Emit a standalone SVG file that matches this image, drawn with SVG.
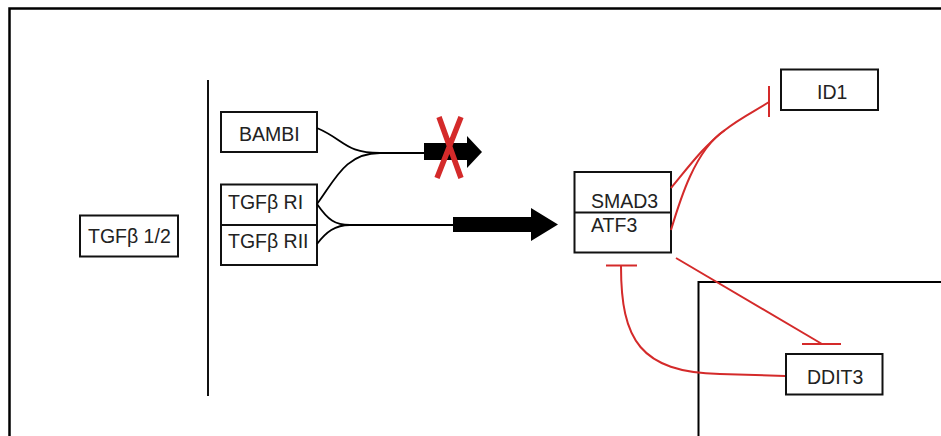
<svg xmlns="http://www.w3.org/2000/svg" width="941" height="436" viewBox="0 0 941 436">
<style>
.box{fill:#fff;stroke:#111;stroke-width:2}
.t{font-family:"Liberation Sans",Arial,sans-serif;font-size:19.5px;fill:#222}
.blk{fill:none;stroke:#000;stroke-width:1.8}
.red{fill:none;stroke:#d42a2a;stroke-width:2}
</style>
<rect width="941" height="436" fill="#fff"/>
<path d="M9.5,440 V8.5 H945" fill="none" stroke="#000" stroke-width="2.5"/>
<line x1="208" y1="80" x2="208" y2="396" stroke="#111" stroke-width="2"/>
<rect x="698.5" y="282" width="260" height="170" fill="none" stroke="#000" stroke-width="2"/>

<g id="tgfb12"><rect class="box" x="80" y="215.5" width="98" height="41"/><text class="t" x="88" y="243">TGFβ 1/2</text></g>
<g id="bambi"><rect class="box" x="221" y="112" width="96" height="40"/><text class="t" x="239" y="141">BAMBI</text></g>
<g id="tgfbr"><rect class="box" x="221" y="184.5" width="96" height="80.5"/><line x1="221" y1="225" x2="317" y2="225" stroke="#111" stroke-width="2"/><text class="t" x="228" y="209">TGFβ RI</text><text class="t" x="228" y="248">TGFβ RII</text></g>
<g id="smad3atf3"><rect class="box" x="574.5" y="172" width="96.5" height="80.5"/><line x1="574.5" y1="212.5" x2="671" y2="212.5" stroke="#111" stroke-width="2"/><text class="t" x="591" y="208">SMAD3</text><text class="t" x="591" y="232">ATF3</text></g>
<g id="id1"><rect class="box" x="781" y="69.5" width="97" height="40.5"/><text class="t" x="817" y="99">ID1</text></g>
<g id="ddit3"><rect class="box" x="786" y="354" width="96.5" height="40.5"/><text class="t" x="807" y="384">DDIT3</text></g>

<g id="connectors">
<path class="blk" d="M317,128 C345,140 345,153 380,153 L426,153"/>
<path class="blk" d="M317,204 C335,180 345,153 380,153"/>
<path class="blk" d="M317,204 C328,220 335,225 350,225 L455,225"/>
<path class="blk" d="M317,244 C326,232 335,225 350,225"/>
<polygon points="424,143 467,143 467,136 482,152 467,168 467,160 424,160" fill="#000"/>
<polygon points="453,217 531,217 531,208 558,224.5 531,241 531,232 453,232" fill="#000"/>
<path d="M439,117 L461,178 M461,117 L437,178" stroke="#d42a2a" stroke-width="5.5" fill="none"/>
<path class="red" d="M671,188 C690,165 705,145 725,130 C740,118 755,111 769,102"/>
<path class="red" d="M671,230 C680,200 695,150 725,130"/>
<line class="red" x1="769" y1="86" x2="769" y2="117"/>
<line class="red" x1="676" y1="258" x2="822" y2="344"/>
<line class="red" x1="802" y1="344" x2="841" y2="344"/>
<path class="red" d="M785,376 L720,374 C640,372 621,340 621,266"/>
<line class="red" x1="606" y1="265.5" x2="637" y2="265.5"/>
</g>
</svg>
